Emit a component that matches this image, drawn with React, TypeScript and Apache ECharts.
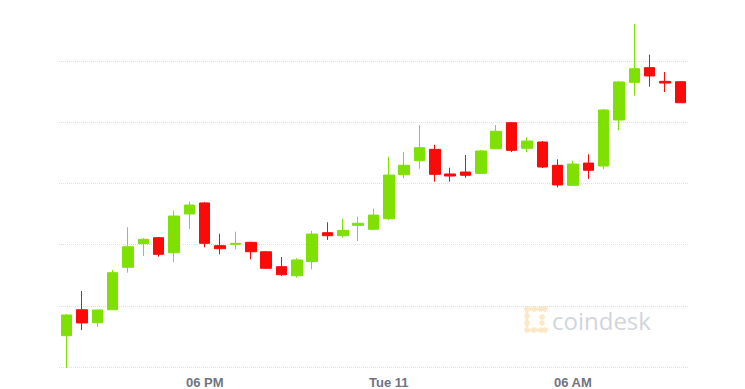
import React, { useEffect, useRef } from "react";
import * as echarts from "echarts";

const categories = [
  "13:30", "14:00", "14:30", "15:00", "15:30", "16:00", "16:30", "17:00", "17:30",
  "18:00", "18:30", "19:00", "19:30", "20:00", "20:30", "21:00", "21:30", "22:00",
  "22:30", "23:00", "23:30", "00:00", "00:30", "01:00", "01:30", "02:00", "02:30",
  "03:00", "03:30", "04:00", "04:30", "05:00", "05:30", "06:00", "06:30", "07:00",
  "07:30", "08:00", "08:30", "09:00", "09:30",
];

const tickCategories = ["18:00", "00:00", "06:00"];
const tickLabels = ["06 PM", "Tue 11", "06 AM"];

// [open, close, low, high]
const candles = [
  [9725.6, 9742.5, 9699.2, 9743.3],
  [9746.8, 9736.0, 9730.2, 9762.1],
  [9736.2, 9746.6, 9732.9, 9747.0],
  [9746.8, 9777.1, 9746.8, 9779.3],
  [9781.5, 9798.3, 9777.1, 9814.2],
  [9800.8, 9804.4, 9790.7, 9805.4],
  [9805.7, 9792.1, 9790.2, 9806.3],
  [9793.4, 9823.4, 9785.6, 9827.8],
  [9825.1, 9832.4, 9812.8, 9835.1],
  [9834.1, 9801.1, 9797.8, 9834.9],
  [9799.2, 9796.7, 9792.1, 9809.0],
  [9800.3, 9801.1, 9796.2, 9810.6],
  [9801.9, 9794.2, 9788.0, 9802.4],
  [9794.2, 9780.7, 9780.1, 9794.8],
  [9782.0, 9775.4, 9774.4, 9789.9],
  [9774.6, 9787.5, 9773.0, 9788.9],
  [9786.1, 9808.7, 9779.9, 9811.2],
  [9809.8, 9807.3, 9803.8, 9818.3],
  [9807.3, 9811.7, 9805.7, 9821.0],
  [9815.8, 9817.5, 9803.0, 9822.9],
  [9812.6, 9824.2, 9812.0, 9829.4],
  [9821.2, 9856.9, 9820.2, 9871.9],
  [9857.2, 9864.9, 9854.2, 9875.7],
  [9868.6, 9879.3, 9862.1, 9897.6],
  [9877.9, 9857.5, 9851.5, 9881.7],
  [9857.8, 9856.1, 9851.5, 9862.9],
  [9859.4, 9856.7, 9854.7, 9873.3],
  [9858.3, 9876.6, 9858.3, 9877.4],
  [9878.4, 9892.7, 9878.4, 9897.8],
  [9899.7, 9877.1, 9875.7, 9900.3],
  [9878.8, 9884.7, 9875.5, 9887.8],
  [9883.9, 9863.5, 9862.7, 9884.7],
  [9864.9, 9848.8, 9846.9, 9869.8],
  [9848.5, 9865.9, 9848.0, 9868.6],
  [9866.7, 9860.8, 9853.7, 9873.9],
  [9864.3, 9910.1, 9861.8, 9910.9],
  [9901.9, 9933.0, 9893.5, 9933.8],
  [9932.7, 9943.8, 9921.8, 9980.4],
  [9944.7, 9937.9, 9929.1, 9955.3],
  [9933.5, 9932.1, 9924.8, 9941.1],
  [9933.2, 9916.0, 9916.0, 9933.5],
];

const UP = "#7fe004";
const DOWN = "#fb0a0a";
const LOGO = "#fde8c6";

export default function App() {
  const ref = useRef<HTMLDivElement>(null);

  useEffect(() => {
    document.body.style.margin = "0";
    const chart = echarts.init(ref.current!, null, { renderer: "svg" });

    const logoDots = [
      [527, 309], [534, 309], [541, 309], [545, 309],
      [527, 316], [527, 323], [527, 330],
      [534, 330], [541, 330], [545, 330],
      [542, 317], [542, 323],
    ];

    chart.setOption({
      animation: false,
      backgroundColor: "#ffffff",
      grid: { left: 59, right: 57, top: 0, bottom: 22 },
      xAxis: {
        type: "category",
        data: categories,
        boundaryGap: true,
        axisLine: { show: false },
        axisTick: { show: false },
        splitLine: { show: false },
        axisLabel: {
          interval: (index: number, value: string) => tickCategories.includes(value),
          formatter: (value: string) => {
            const i = tickCategories.indexOf(value);
            return i >= 0 ? tickLabels[i] : "";
          },
          color: "#70747f",
          fontSize: 13,
          fontWeight: "bold",
          fontFamily: "Liberation Sans, Arial, sans-serif",
          margin: 9,
        },
      },
      yAxis: {
        type: "value",
        min: 9700,
        max: 10000,
        interval: 50,
        axisLine: { show: false },
        axisTick: { show: false },
        axisLabel: { show: false },
        splitLine: {
          show: true,
          showMaxLine: false,
          lineStyle: { color: "#dcdfec", type: "dotted", width: 1 },
        },
      },
      graphic: [
        ...logoDots.map(([x, y]) => ({
          type: "circle",
          shape: { cx: x, cy: y, r: 2.8 },
          style: { fill: LOGO },
          silent: true,
        })),
        {
          type: "rect",
          shape: { x: 525.5, y: 308, width: 3, height: 23 },
          style: { fill: LOGO },
          silent: true,
        },
        {
          type: "rect",
          shape: { x: 527, y: 307.5, width: 18, height: 3 },
          style: { fill: LOGO },
          silent: true,
        },
        {
          type: "rect",
          shape: { x: 527, y: 328.5, width: 18, height: 3 },
          style: { fill: LOGO },
          silent: true,
        },
        {
          type: "text",
          x: 552,
          y: 320,
          silent: true,
          style: {
            text: "coindesk",
            fill: "#d2d5dc",
            font: '24px "Open Sans", sans-serif',
            verticalAlign: "middle",
            align: "left",
          },
        },
      ],
      series: [
        {
          type: "candlestick",
          data: candles,
          barWidth: 11,
          itemStyle: {
            color: UP,
            color0: DOWN,
            borderColor: UP,
            borderColor0: DOWN,
            borderWidth: 1,
          },
        },
      ],
    });

    return () => chart.dispose();
  }, []);

  return <div ref={ref} style={{ width: 745, height: 389 }} />;
}
